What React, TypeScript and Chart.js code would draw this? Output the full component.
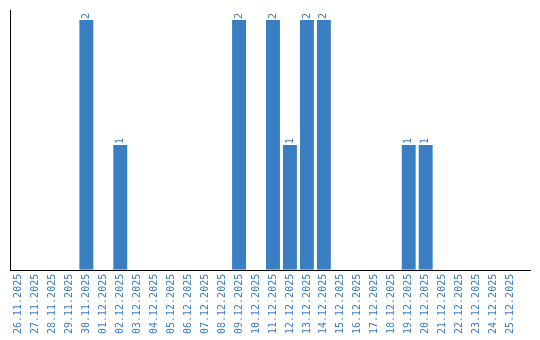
import React, { useEffect, useRef } from "react";
import { Chart, registerables } from "chart.js";

Chart.register(...registerables);

const categories = [
  "26.11.2025", "27.11.2025", "28.11.2025", "29.11.2025", "30.11.2025",
  "01.12.2025", "02.12.2025", "03.12.2025", "04.12.2025", "05.12.2025",
  "06.12.2025", "07.12.2025", "08.12.2025", "09.12.2025", "10.12.2025",
  "11.12.2025", "12.12.2025", "13.12.2025", "14.12.2025", "15.12.2025",
  "16.12.2025", "17.12.2025", "18.12.2025", "19.12.2025", "20.12.2025",
  "21.12.2025", "22.12.2025", "23.12.2025", "24.12.2025", "25.12.2025",
];

const counts = [
  0, 0, 0, 0, 2,
  0, 1, 0, 0, 0,
  0, 0, 0, 2, 0,
  2, 1, 2, 2, 0,
  0, 0, 0, 1, 1,
  0, 0, 0, 0, 0,
];

const BLUE = "#3a7ec4";
const FONT = "'DejaVu Sans Mono', monospace";

const valueLabels = {
  id: "valueLabels",
  afterDatasetsDraw(chart: any) {
    const ctx = chart.ctx;
    const meta = chart.getDatasetMeta(0);
    ctx.save();
    ctx.fillStyle = BLUE;
    ctx.font = `10px ${FONT}`;
    ctx.textAlign = "left";
    ctx.textBaseline = "middle";
    meta.data.forEach((bar: any, i: number) => {
      const v = counts[i];
      if (!v) return;
      ctx.save();
      ctx.translate(bar.x, bar.y - 1);
      ctx.rotate(-Math.PI / 2);
      ctx.fillText(String(v), 0, 0);
      ctx.restore();
    });
    ctx.restore();
  },
};

const xAxisLine = {
  id: "xAxisLine",
  afterDraw(chart: any) {
    const ctx = chart.ctx;
    const a = chart.chartArea;
    ctx.save();
    ctx.strokeStyle = "#000";
    ctx.lineWidth = 1;
    ctx.beginPath();
    const y = Math.round(a.bottom) + 0.5;
    ctx.moveTo(a.left, y);
    ctx.lineTo(chart.width - 9, y);
    ctx.stroke();
    ctx.restore();
  },
};

export default function App() {
  const ref = useRef<HTMLCanvasElement>(null);
  useEffect(() => {
    document.body.style.margin = "0";
    const chart = new Chart(ref.current!, {
      type: "bar",
      data: {
        labels: categories,
        datasets: [
          {
            data: counts,
            backgroundColor: BLUE,
            barPercentage: 0.82,
            categoryPercentage: 1,
          },
        ],
      },
      options: {
        animation: false,
        responsive: false,
        layout: { padding: { left: 10, top: 10, right: 21, bottom: 2 } },
        plugins: { legend: { display: false }, tooltip: { enabled: false } },
        scales: {
          x: {
            grid: { display: false, drawTicks: false },
            border: { display: false },
            ticks: {
              color: BLUE,
              font: { family: FONT, size: 10 },
              minRotation: 90,
              maxRotation: 90,
              padding: 4,
              autoSkip: false,
            },
          },
          y: {
            min: 0,
            max: 2.08,
            grid: { display: false, drawTicks: false },
            border: { display: true, color: "#000", width: 1 },
            ticks: { display: false },
          },
        },
      },
      plugins: [valueLabels, xAxisLine],
    });
    return () => chart.destroy();
  }, []);
  return <canvas ref={ref} width={540} height={340} style={{ display: "block" }} />;
}
